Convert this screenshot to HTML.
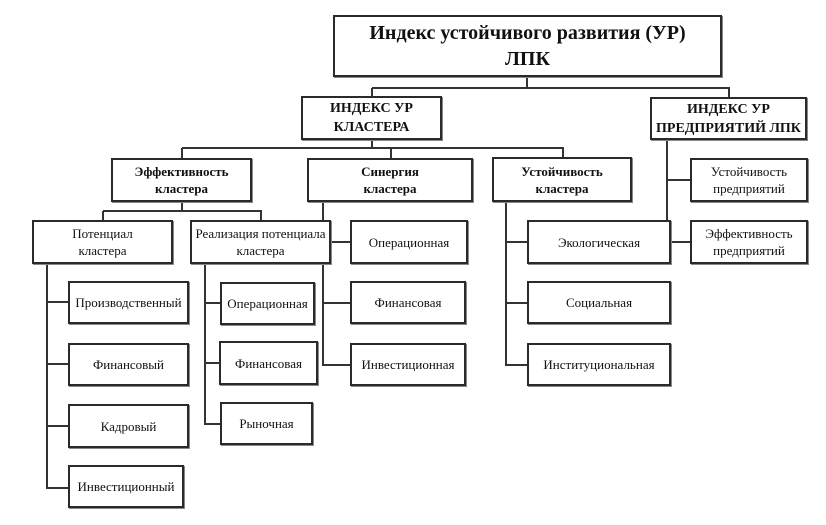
<!DOCTYPE html>
<html><head><meta charset="utf-8"><style>
html,body{margin:0;padding:0;background:#fff;}
body{width:826px;height:525px;position:relative;overflow:hidden;font-family:"Liberation Serif","Noto Serif CJK SC",serif;color:#111;}
.b{position:absolute;box-sizing:border-box;border:2px solid #2a2a2a;box-shadow:1px 1px 0 #888;display:flex;align-items:center;justify-content:center;text-align:center;font-size:13px;line-height:17px;background:#fff;white-space:nowrap;}
.bold{font-weight:bold;}
svg{position:absolute;left:0;top:0;}
</style></head><body>
<svg width="826" height="525" stroke="#333" stroke-width="2" fill="none">
<path d="M527 77V88M372 88H729V97M372 88V96"/>
<path d="M372 140V148M182 148H563V157M182 148V158M391 148V158"/>
<path d="M182 202V211M103 211H261V220M103 211V220"/>
<path d="M47 264V488H68M47 302H68M47 364H68M47 426H68"/>
<path d="M205 264V424H220M205 303H220M205 363H219"/>
<path d="M323 202V365H350M323 242H350M323 303H350"/>
<path d="M506 202V365H527M506 242H527M506 303H527"/>
<path d="M667 140V220M667 180H690M671 242H690"/>
</svg>
<div class="b bold" style="left:333px;top:15px;width:389px;height:62px;font-size:20px;line-height:26px;">Индекс устойчивого развития (УР)<br>ЛПК</div>
<div class="b bold" style="left:301px;top:96px;width:141px;height:44px;font-size:14px;line-height:19px;">ИНДЕКС УР<br>КЛАСТЕРА</div>
<div class="b bold" style="left:650px;top:97px;width:157px;height:43px;font-size:14px;line-height:19px;">ИНДЕКС УР<br>ПРЕДПРИЯТИЙ ЛПК</div>
<div class="b bold" style="left:111px;top:158px;width:141px;height:44px;">Эффективность<br>кластера</div>
<div class="b bold" style="left:307px;top:158px;width:166px;height:44px;">Синергия<br>кластера</div>
<div class="b bold" style="left:492px;top:157px;width:140px;height:45px;">Устойчивость<br>кластера</div>
<div class="b" style="left:690px;top:158px;width:118px;height:44px;">Устойчивость<br>предприятий</div>
<div class="b" style="left:32px;top:220px;width:141px;height:44px;">Потенциал<br>кластера</div>
<div class="b" style="left:190px;top:220px;width:141px;height:44px;">Реализация потенциала<br>кластера</div>
<div class="b" style="left:350px;top:220px;width:118px;height:44px;">Операционная</div>
<div class="b" style="left:527px;top:220px;width:144px;height:44px;">Экологическая</div>
<div class="b" style="left:690px;top:220px;width:118px;height:44px;">Эффективность<br>предприятий</div>
<div class="b" style="left:68px;top:281px;width:121px;height:43px;">Производственный</div>
<div class="b" style="left:68px;top:343px;width:121px;height:43px;">Финансовый</div>
<div class="b" style="left:68px;top:404px;width:121px;height:44px;">Кадровый</div>
<div class="b" style="left:68px;top:465px;width:116px;height:43px;">Инвестиционный</div>
<div class="b" style="left:220px;top:282px;width:95px;height:43px;">Операционная</div>
<div class="b" style="left:219px;top:341px;width:99px;height:44px;">Финансовая</div>
<div class="b" style="left:220px;top:402px;width:93px;height:43px;">Рыночная</div>
<div class="b" style="left:350px;top:281px;width:116px;height:43px;">Финансовая</div>
<div class="b" style="left:350px;top:343px;width:116px;height:43px;">Инвестиционная</div>
<div class="b" style="left:527px;top:281px;width:144px;height:43px;">Социальная</div>
<div class="b" style="left:527px;top:343px;width:144px;height:43px;">Институциональная</div>
</body></html>
